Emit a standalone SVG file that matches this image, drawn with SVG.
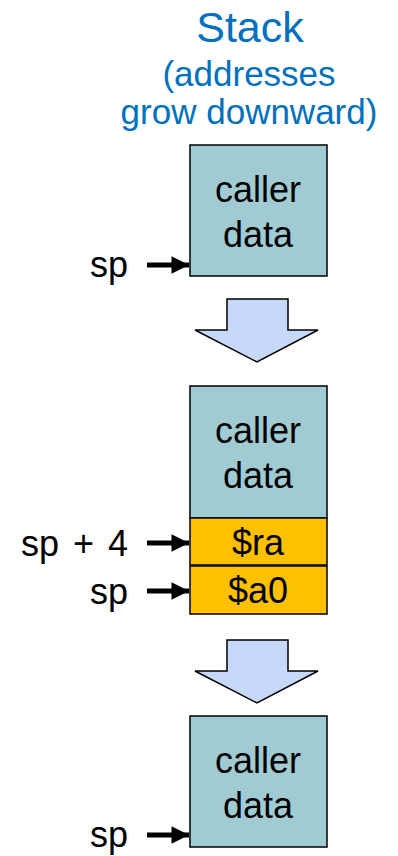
<svg xmlns="http://www.w3.org/2000/svg" width="398" height="856" viewBox="0 0 398 856">
  <defs>
    <marker id="head" viewBox="0 0 10 10" refX="10" refY="5" markerWidth="3.6" markerHeight="3.5" markerUnits="strokeWidth" orient="auto">
      <path d="M0,0 L10,5 L0,10 Z" fill="#000"/>
    </marker>
  </defs>
  <style>
    text { font-family: "Liberation Sans", Arial, sans-serif; }
    .title { fill: #0070C0; text-anchor: middle; }
    .lbl { font-size: 36px; fill: #000; }
    .mid { text-anchor: middle; }
    .end { text-anchor: end; }
    .data { fill: #A0CBD3; stroke: #000; stroke-width: 1.5; }
    .reg { fill: #FFC000; stroke: #000; stroke-width: 1.5; }
    .big { fill: #C6D9FA; stroke: #000; stroke-width: 1.5; stroke-linejoin: miter; }
    .ptr { stroke: #000; stroke-width: 5; fill: none; marker-end: url(#head); }
  </style>

  <g id="title">
    <text class="title" x="250" y="42" font-size="43">Stack</text>
    <text class="title" x="249" y="86" font-size="35">(addresses</text>
    <text class="title" x="249" y="124" font-size="35">grow downward)</text>
  </g>

  <!-- state 1 -->
  <g id="caller1">
    <rect class="data" x="190" y="145" width="137" height="131"/>
    <text class="lbl mid" x="258" y="202">caller</text>
    <text class="lbl mid" x="258" y="247">data</text>
  </g>
  <g id="sp1"><text class="lbl end" x="128" y="277">sp</text></g>

  <g id="step1">
    <path class="big" d="M227,299 H288 V330 H318 L257,362 L195,330 H227 Z"/>
  </g>

  <!-- state 2 -->
  <g id="caller2">
    <rect class="data" x="190" y="386" width="137" height="132"/>
    <text class="lbl mid" x="258" y="443">caller</text>
    <text class="lbl mid" x="258" y="488">data</text>
  </g>
  <g id="ra">
    <rect class="reg" x="190" y="518" width="137" height="47"/>
    <text class="lbl mid" x="258" y="555">$ra</text>
  </g>
  <g id="a0">
    <rect class="reg" x="190" y="566" width="137" height="48"/>
    <text class="lbl mid" x="258" y="603">$a0</text>
  </g>
  <g id="sp2"><text class="lbl end" x="128" y="556" word-spacing="4">sp + 4</text></g>
  <g id="sp3"><text class="lbl end" x="128" y="604">sp</text></g>

  <g id="step2">
    <path class="big" d="M227,640 H288 V671 H318 L257,703 L195,671 H227 Z"/>
  </g>

  <!-- state 3 -->
  <g id="caller3">
    <rect class="data" x="190" y="716" width="137" height="131"/>
    <text class="lbl mid" x="258" y="773">caller</text>
    <text class="lbl mid" x="258" y="818">data</text>
  </g>
  <g id="sp4"><text class="lbl end" x="128" y="847">sp</text></g>

  <g id="pointers">
    <line class="ptr" x1="147" y1="265" x2="189" y2="265"/>
    <line class="ptr" x1="147" y1="543" x2="189" y2="543"/>
    <line class="ptr" x1="147" y1="591" x2="189" y2="591"/>
    <line class="ptr" x1="147" y1="835" x2="189" y2="835"/>
  </g>
</svg>
